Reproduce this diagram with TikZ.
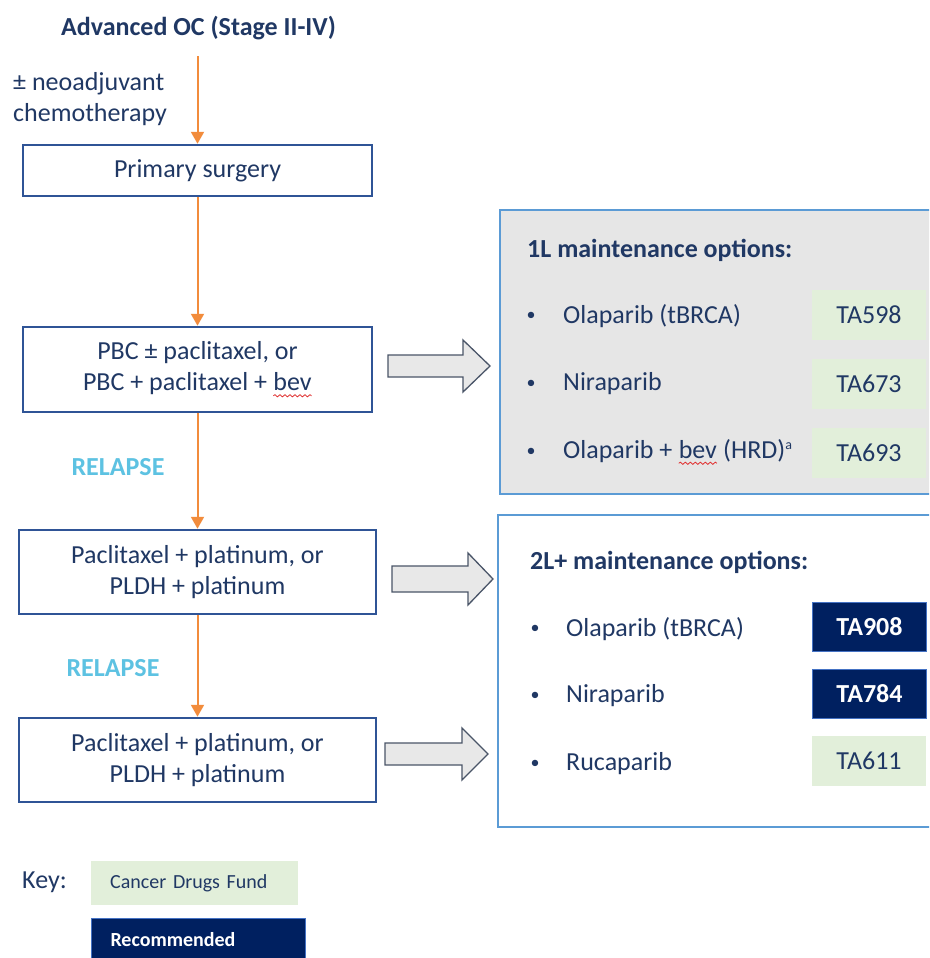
\documentclass[tikz,border=0pt]{standalone}
\usepackage{fontspec}
\setmainfont{Carlito}
\usetikzlibrary{arrows.meta,decorations.pathmorphing}
\definecolor{txt}{HTML}{203864}
\definecolor{boxblue}{HTML}{2F5496}
\definecolor{flowor}{HTML}{F28C3C}
\definecolor{relapse}{HTML}{5DC2E2}
\definecolor{panelblue}{HTML}{5B9BD5}
\definecolor{panelgray}{HTML}{E6E6E6}
\definecolor{cdfgreen}{HTML}{E2EFDA}
\definecolor{recnavy}{HTML}{002060}
\definecolor{recedge}{HTML}{4472C4}
\definecolor{arrfill}{HTML}{E8E8E8}
\definecolor{arredge}{HTML}{4A5568}
\definecolor{squig}{HTML}{E03030}
\newcommand\redsquig[1]{\tikz[baseline=(sq.base),x=1pt,y=1pt]{\node[inner sep=0pt,outer sep=0pt,anchor=base,text=txt,draw=none,fill=none,minimum width=0pt,minimum height=0pt](sq){#1};\draw[squig,line width=0.8pt,decorate,decoration={snake,amplitude=1.1pt,segment length=5pt}]([yshift=-5pt]sq.base west)--([yshift=-5pt]sq.base east);}}
\newcommand\smallsup[1]{\raisebox{9pt}{\fontsize{14}{14}\selectfont #1}}
\tikzset{
  base/.style={text=txt, font=\fontsize{26}{31}\selectfont, inner sep=0pt},
  flowbox/.style={base, draw=boxblue, line width=2.5pt, fill=white, align=center},
  flow/.style={draw=flowor, color=flowor, line width=2pt, -{Triangle[width=13pt,length=12pt]}},
  relapselbl/.style={base, text=relapse, font=\fontsize{26}{31}\selectfont\bfseries},
  panel/.style={draw=panelblue, line width=2.5pt},
  bulletlbl/.style={base, anchor=center, font=\fontsize{18}{22}\selectfont},
  itemlbl/.style={base, anchor=west},
  cdf/.style={base, fill=cdfgreen, minimum width=114pt, minimum height=50pt},
  rec/.style={base, fill=recnavy, draw=recedge, line width=1pt, text=white, font=\fontsize{26}{31}\selectfont\bfseries, minimum width=114pt, minimum height=49pt},
  blockarrow/.style={fill=arrfill, draw=arredge, line width=1.3pt, line join=miter},
}
\begin{document}
\begin{tikzpicture}[x=1pt,y=-1pt]
\useasboundingbox (0,0) rectangle (929,958);
\clip (0,0) rectangle (929,958);
\fill[white] (0,0) rectangle (929,958);

% left flow
\node[base, font=\fontsize{26}{31}\selectfont\bfseries] (title) at (198.5,28) {Advanced OC (Stage II-IV)};
\node[base, anchor=west, align=left] (neo) at (13,99) {± neoadjuvant\\chemotherapy};
\node[flowbox, minimum width=349pt, minimum height=51pt] (surg) at (197.5,170.5) {Primary surgery};
\node[flowbox, minimum width=349pt, minimum height=85pt] (pbc) at (197.5,369.5) {PBC ± paclitaxel, or\\PBC + paclitaxel + \redsquig{bev}};
\node[flowbox, minimum width=357pt, minimum height=84pt] (chemoA) at (197.5,572) {Paclitaxel + platinum, or\\PLDH + platinum};
\node[flowbox, minimum width=357pt, minimum height=84pt] (chemoB) at (197.5,760) {Paclitaxel + platinum, or\\PLDH + platinum};
\node[relapselbl] (relA) at (118,467) {RELAPSE};
\node[relapselbl] (relB) at (113,668) {RELAPSE};

\draw[flow] ([yshift=-16pt]surg.north |- title.south) -- (surg.north);
\draw[flow] (surg.south) -- (pbc.north);
\draw[flow] (pbc.south) -- (chemoA.north);
\draw[flow] (chemoA.south) -- (chemoB.north);

% 1L panel
\node[panel, fill=panelgray, minimum width=440pt, minimum height=284pt, inner sep=0pt] (p1) at (720,352) {};
\node[base, anchor=west, font=\fontsize{26}{31}\selectfont\bfseries] (p1t) at (527,250) {1L maintenance options:};
\node[bulletlbl] (b11) at (531,316) {•};
\node[itemlbl] (i11) at (563,316) {Olaparib (tBRCA)};
\node[bulletlbl] (b12) at (531,384) {•};
\node[itemlbl] (i12) at (563,384) {Niraparib};
\node[bulletlbl] (b13) at (531,452) {•};
\node[itemlbl] (i13) at (563,452) {Olaparib + \redsquig{bev} (HRD)\smallsup{a}};
\node[cdf] (t598) at (869,315) {TA598};
\node[cdf] (t673) at (869,384) {TA673};
\node[cdf] (t693) at (869,453) {TA693};

% 2L panel
\node[panel, fill=white, minimum width=442pt, minimum height=312pt, inner sep=0pt] (p2) at (719,671) {};
\node[base, anchor=west, font=\fontsize{26}{31}\selectfont\bfseries] (p2t) at (530,562) {2L+ maintenance options:};
\node[bulletlbl] (b21) at (535,629) {•};
\node[itemlbl] (i21) at (566,629) {Olaparib (tBRCA)};
\node[bulletlbl] (b22) at (535,696) {•};
\node[itemlbl] (i22) at (566,696) {Niraparib};
\node[bulletlbl] (b23) at (535,764) {•};
\node[itemlbl] (i23) at (566,764) {Rucaparib};
\node[rec] (t908) at (869.5,627) {TA908};
\node[rec] (t784) at (869.5,694) {TA784};
\node[cdf] (t611) at (869,761) {TA611};

% block arrows
\draw[blockarrow] (388,355) -- (463,355) -- (463,340) -- (490,366) -- (463,392) -- (463,377) -- (388,377) -- cycle;
\draw[blockarrow] (392,566) -- (468,566) -- (468,553) -- (493,579) -- (468,605) -- (468,592) -- (392,592) -- cycle;
\draw[blockarrow] (385,743) -- (462,743) -- (462,728) -- (488,754) -- (462,780) -- (462,765) -- (385,765) -- cycle;

% key
\node[base, anchor=west] (keylbl) at (22,882) {Key:};
\node[base, fill=cdfgreen, anchor=west, font=\fontsize{20}{24}\selectfont, text width=169pt, inner xsep=19pt, minimum height=44pt, align=left] (keycdf) at (91,883) {Cancer Drugs Fund};
\node[base, fill=recnavy, draw=recedge, line width=1pt, text=white, anchor=west, font=\fontsize{20}{24}\selectfont\bfseries, text width=176pt, inner xsep=19pt, minimum height=44pt, align=left] (keyrec) at (91,940) {Recommended};
\end{tikzpicture}
\end{document}
